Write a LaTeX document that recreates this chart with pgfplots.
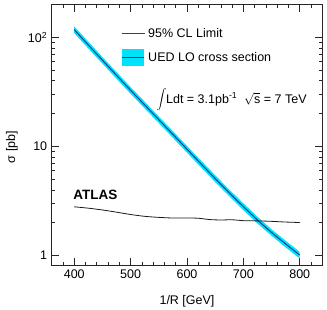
\documentclass[border=0pt]{standalone}
\usepackage{pgfplots}
\usepackage{pgfplotstable}
\pgfplotsset{compat=1.18}
\usepackage{fontspec}
\setmainfont{Liberation Sans}

\definecolor{bandcyan}{RGB}{0,225,250}
\definecolor{uedblue}{RGB}{15,55,140}

% UED LO cross section (pb)
\pgfplotstableread{
x    sigma
400  117.5
425  85.1
450  61.7
475  44.9
500  32.7
525  24.0
550  17.6
575  12.9
600  9.44
625  6.92
650  5.08
675  3.76
700  2.81
725  2.12
750  1.63
775  1.28
800  1.01
}\uedtable

% theory band: upper edge left to right, then lower edge right to left
\pgfplotstableread{
x    y
400  125.7
425  91.1
450  66.0
475  48.0
500  35.0
525  25.7
550  18.8
575  13.8
600  10.10
625  7.40
650  5.44
675  4.02
700  3.01
725  2.27
750  1.74
775  1.37
800  1.08
800  0.94
775  1.19
750  1.52
725  1.97
700  2.61
675  3.50
650  4.72
625  6.44
600  8.78
575  12.0
550  16.4
525  22.3
500  30.4
475  41.8
450  57.4
425  79.1
400  109.3
}\bandtable

% observed 95% CL limit (pb)
\pgfplotstableread{
x    lim
400  2.80
425  2.72
450  2.62
475  2.50
500  2.38
525  2.29
550  2.24
575  2.21
600  2.21
620  2.20
640  2.14
660  2.12
680  2.13
700  2.09
725  2.08
750  2.06
775  2.03
800  2.01
}\limtable

\begin{document}
\begin{tikzpicture}[font=\fontsize{12.5}{15}\selectfont]
\begin{axis}[
  scale only axis,
  width=270.6pt, height=260.5pt,
  ymode=log,
  xmin=360, xmax=840,
  ymin=0.82, ymax=200,
  xtick={400,500,600,700,800},
  minor xtick={380,400,...,820},
  ytick={1,10,100},
  yticklabels={1,10,10\textsuperscript{2}},
  /pgf/number format/assume math mode=true,
  tick align=inside,
  tick pos=both,
  major tick length=7pt,
  minor tick length=3.5pt,
  every tick/.style={black!85, line width=0.6pt},
  axis line style={black!85, line width=0.7pt},
  xticklabel style={yshift=-1pt},
  yticklabel style={xshift=-1pt},
  xlabel={1/R [GeV]},
  ylabel={σ [pb]},
  every axis x label/.style={at={(axis description cs:0.5,-0.141)}, anchor=center},
  every axis y label/.style={at={(axis description cs:-0.147,0.453)}, anchor=center, rotate=90},
]
  \addplot[fill=bandcyan, draw=none, forget plot] table[x=x, y=y] {\bandtable};
  \addplot[uedblue, line width=0.9pt, smooth] table[x=x, y=sigma] {\uedtable};
  \addplot[black!90, line width=0.8pt, smooth] table[x=x, y=lim] {\limtable};

  % legend
  \draw[black!75, line width=0.9pt] (rel axis cs:0.259,0.889) -- (rel axis cs:0.345,0.889);
  \node[anchor=west, inner sep=0pt] at (rel axis cs:0.356,0.889) {95\% CL Limit};
  \fill[bandcyan] (rel axis cs:0.259,0.765) rectangle (rel axis cs:0.342,0.828);
  \draw[uedblue, line width=0.9pt] (rel axis cs:0.259,0.797) -- (rel axis cs:0.342,0.797);
  \node[anchor=west, inner sep=0pt] at (rel axis cs:0.356,0.797) {UED LO cross section};

  \node[anchor=west, inner sep=0pt] at (rel axis cs:0.387,0.633)
    {$\displaystyle\int$\kern-0.5pt Ldt = 3.1pb\textsuperscript{-1}\hspace{0.55em}$\sqrt{\mbox{s}}$ = 7 TeV};
  \node[anchor=west, inner sep=0pt, font=\fontsize{13.5}{16}\selectfont\bfseries]
    at (rel axis cs:0.079,0.269) {ATLAS};
\end{axis}
\pgfresetboundingbox
\useasboundingbox (-51.7pt,-44pt) rectangle (275.3pt,265pt);
\end{tikzpicture}
\end{document}
